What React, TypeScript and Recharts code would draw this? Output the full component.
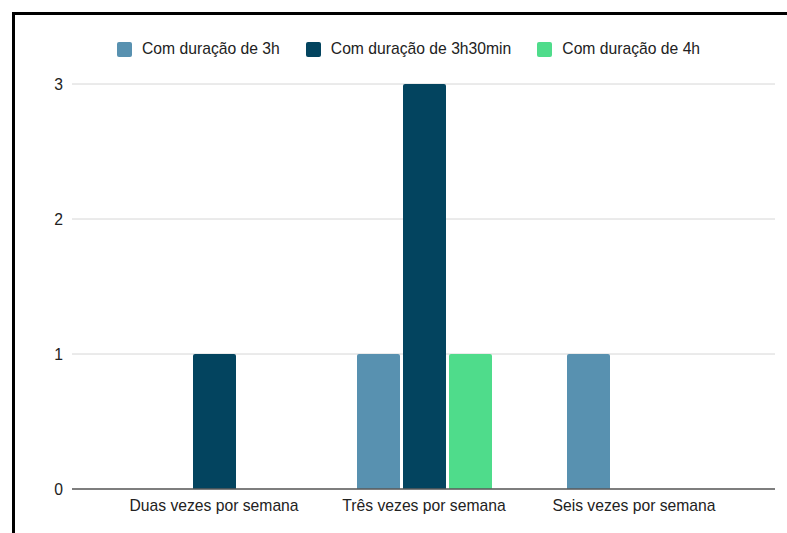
import { BarChart, Bar, XAxis, YAxis, CartesianGrid, Legend } from "recharts";

const categories = ["Duas vezes por semana", "Três vezes por semana", "Seis vezes por semana"];
const com3h = [null, 1, 1];
const com3h30 = [1, 3, null];
const com4h = [null, 1, null];
const yTicks = [0, 1, 2, 3];

const series = [
  { key: "d3h", name: "Com duração de 3h", color: "#5891B0" },
  { key: "d3h30", name: "Com duração de 3h30min", color: "#03445F" },
  { key: "d4h", name: "Com duração de 4h", color: "#4FDC8B" },
];

const data = categories.map((name, i) => ({
  name,
  d3h: com3h[i],
  d3h30: com3h30[i],
  d4h: com4h[i],
}));

const font = "Arial, 'Liberation Sans', sans-serif";
const textSize = 15.7;

function LegendRow() {
  return (
    <div
      style={{
        height: 44,
        display: "flex",
        alignItems: "flex-start",
        paddingLeft: 102,
        paddingTop: 1,
        boxSizing: "border-box",
        fontFamily: font,
        fontSize: textSize,
        color: "#222",
      }}
    >
      {series.map((s) => (
        <div
          key={s.key}
          style={{ display: "flex", alignItems: "center", height: 16, marginRight: 26 }}
        >
          <span
            style={{
              display: "inline-block",
              width: 15,
              height: 15,
              background: s.color,
              borderRadius: 2,
              marginRight: 10,
            }}
          />
          <span>{s.name}</span>
        </div>
      ))}
    </div>
  );
}

export default function App() {
  return (
    <div
      style={{
        position: "absolute",
        left: 12,
        top: 12,
        width: 772,
        height: 518,
        borderTop: "3px solid #000",
        borderLeft: "3px solid #000",
        background: "#fff",
        overflow: "hidden",
      }}
    >
      <BarChart
        width={772}
        height={518}
        data={data}
        margin={{ top: 25, right: 12, bottom: 0, left: 0 }}
        barCategoryGap={37}
        barGap={3}
      >
        <CartesianGrid horizontal vertical={false} stroke="#d6d6d6" />
        <XAxis
          dataKey="name"
          padding={{ left: 37, right: 36 }}
          tickLine={false}
          tickSize={0}
          tickMargin={11}
          axisLine={{ stroke: "#5a5a5a", strokeWidth: 1.5 }}
          tick={{ fill: "#222", fontSize: textSize, fontFamily: font }}
          height={44}
          interval={0}
        />
        <YAxis
          width={57}
          domain={[0, 3]}
          ticks={yTicks}
          axisLine={false}
          tickLine={false}
          tickSize={0}
          tickMargin={9}
          tick={{ fill: "#222", fontSize: textSize, fontFamily: font }}
        />
        <Legend verticalAlign="top" wrapperStyle={{ left: 0, width: 772 }} content={() => <LegendRow />} />
        {series.map((s) => (
          <Bar
            key={s.key}
            dataKey={s.key}
            name={s.name}
            fill={s.color}
            barSize={43}
            radius={[2, 2, 0, 0]}
            isAnimationActive={false}
          />
        ))}
      </BarChart>
    </div>
  );
}
